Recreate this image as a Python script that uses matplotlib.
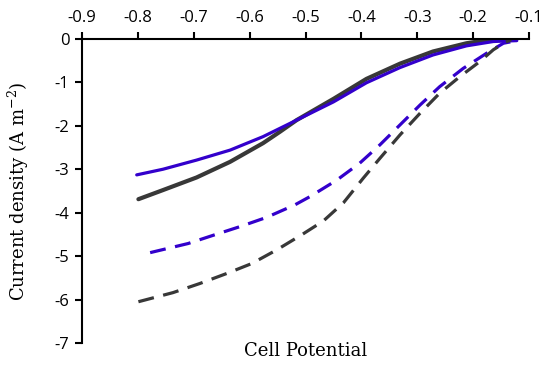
import matplotlib
matplotlib.use("Agg")
import matplotlib.pyplot as plt

# Data
blue_solid_x = [-0.802, -0.755, -0.695, -0.635, -0.576, -0.516, -0.450, -0.391, -0.331, -0.272, -0.212, -0.164, -0.122]
blue_solid_y = [-3.13, -3.00, -2.79, -2.56, -2.25, -1.87, -1.45, -1.01, -0.66, -0.37, -0.16, -0.06, -0.04]

black_solid_x = [-0.799, -0.755, -0.695, -0.635, -0.576, -0.546, -0.516, -0.450, -0.391, -0.331, -0.272, -0.212, -0.176, -0.141]
black_solid_y = [-3.69, -3.48, -3.19, -2.83, -2.40, -2.14, -1.87, -1.38, -0.92, -0.57, -0.29, -0.10, -0.03, 0.0]

blue_dash_x = [-0.778, -0.710, -0.665, -0.617, -0.570, -0.519, -0.492, -0.444, -0.403, -0.367, -0.331, -0.295, -0.260, -0.218, -0.176, -0.146, -0.122]
blue_dash_y = [-4.92, -4.71, -4.52, -4.32, -4.11, -3.82, -3.63, -3.25, -2.86, -2.44, -1.98, -1.52, -1.10, -0.68, -0.33, -0.10, -0.04]

black_dash_x = [-0.799, -0.737, -0.689, -0.641, -0.596, -0.552, -0.507, -0.468, -0.432, -0.397, -0.367, -0.331, -0.295, -0.260, -0.224, -0.188, -0.164, -0.143, -0.132]
black_dash_y = [-6.05, -5.84, -5.63, -5.40, -5.17, -4.86, -4.51, -4.19, -3.77, -3.21, -2.75, -2.21, -1.71, -1.25, -0.87, -0.52, -0.25, -0.08, -0.02]

x_ticks = [-0.9, -0.8, -0.7, -0.6, -0.5, -0.4, -0.3, -0.2, -0.1]
y_ticks = [0, -1, -2, -3, -4, -5, -6, -7]

blue = "#3300CC"
dark = "#383838"

plt.rcParams["mathtext.fontset"] = "dejavuserif"

fig = plt.figure(figsize=(5.5, 3.67), dpi=100)
ax = fig.add_axes([0.149, 0.0654, 0.813, 0.8286])

lw = 2.3
ax.plot(black_solid_x, black_solid_y, color=dark, lw=lw + 0.7, solid_capstyle="round")
ax.plot(blue_solid_x, blue_solid_y, color=blue, lw=lw, solid_capstyle="round")
ax.plot(blue_dash_x, blue_dash_y, color=blue, lw=lw, dashes=(5.0, 3.0))
ax.plot(black_dash_x, black_dash_y, color=dark, lw=lw, dashes=(5.0, 3.0))

ax.set_xlim(-0.9, -0.1)
ax.set_ylim(-7, 0)
ax.set_xticks(x_ticks)
ax.set_xticklabels([f"{v:g}" for v in x_ticks])
ax.set_yticks(y_ticks)
ax.set_yticklabels([f"{v:g}" for v in y_ticks])

ax.xaxis.tick_top()
ax.xaxis.set_label_position("bottom")
for s in ["right", "bottom"]:
    ax.spines[s].set_visible(False)
for s in ["left", "top"]:
    ax.spines[s].set_linewidth(1.5)
    ax.spines[s].set_color("black")

ax.tick_params(axis="both", direction="out", length=5, width=1.5,
               labelsize=12, pad=4)
for lab in ax.get_xticklabels() + ax.get_yticklabels():
    lab.set_family(["Open Sans", "DejaVu Sans"])

ax.set_xlabel("Cell Potential", fontsize=13, family=["DejaVu Serif"], labelpad=-1)
ax.set_ylabel("Current density (A m$^{-2}$)", fontsize=13, family=["DejaVu Serif"], labelpad=17)

fig.savefig("out.png", dpi=100)
